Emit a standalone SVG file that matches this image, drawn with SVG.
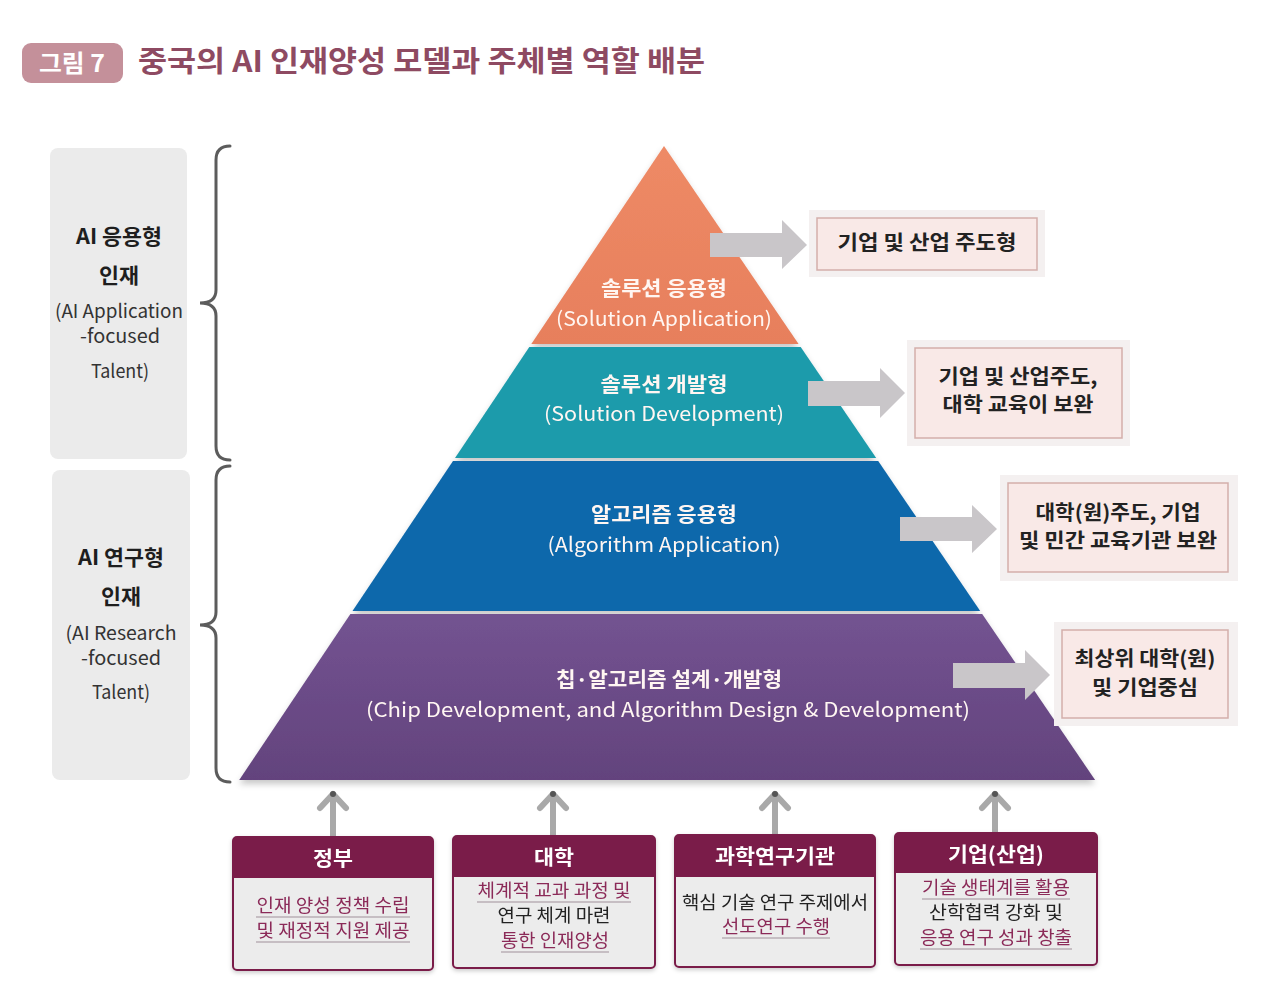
<svg xmlns="http://www.w3.org/2000/svg" width="1287" height="1001" viewBox="0 0 1287 1001">
<defs>
<style>
text{font-family:"Noto Sans CJK KR","Noto Sans",sans-serif;}
.ttl{font-size:29px;font-weight:700;fill:#8e4a62;}
.lb{font-size:21px;font-weight:700;fill:#1e1e1e;text-anchor:middle;}
.ln{font-size:19px;font-weight:400;fill:#333;text-anchor:middle;}
.pk{font-size:20px;font-weight:700;fill:#fff6f2;text-anchor:middle;}
.pe{font-size:20px;font-weight:400;fill:#fff6f2;text-anchor:middle;}
.rb{font-size:20px;font-weight:700;fill:#222;text-anchor:middle;}
.hd{font-size:20px;font-weight:700;fill:#fff;text-anchor:middle;}
.bd{font-size:18px;font-weight:400;fill:#222;text-anchor:middle;}
.bm{font-size:18px;font-weight:400;fill:#8b2a58;text-anchor:middle;}
.ul{stroke:#a0909a;stroke-width:1.2;}
.lbox{fill:#ebebeb;}
.brace{fill:none;stroke:#5c5c5c;stroke-width:3;stroke-linecap:round;}
.garrow{fill:#c9c6c9;}
.rframe{fill:#f4f0f0;}
.rbox{fill:#f9e9e7;stroke:#d3aeab;stroke-width:1.5;}
.bbox{fill:#ececec;stroke:#7a1d48;stroke-width:2;}
.bhead{fill:#7a1d48;}
.up{fill:none;stroke:#a9a9a9;stroke-width:6;stroke-linecap:round;stroke-linejoin:round;}
</style>
<linearGradient id="gPur" x1="0" y1="0" x2="0" y2="1"><stop offset="0" stop-color="#735391"/><stop offset="1" stop-color="#63437d"/></linearGradient>
<linearGradient id="gOr" x1="0" y1="0" x2="0" y2="1"><stop offset="0" stop-color="#ee8a66"/><stop offset="1" stop-color="#e77f5c"/></linearGradient>
<filter id="sh" x="-5%" y="-5%" width="110%" height="115%"><feDropShadow dx="0" dy="4" stdDeviation="3" flood-color="#000" flood-opacity="0.22"/></filter>
<filter id="bs" x="-10%" y="-10%" width="120%" height="130%"><feDropShadow dx="0" dy="2" stdDeviation="2" flood-color="#000" flood-opacity="0.2"/></filter>
</defs>
<rect width="1287" height="1001" fill="#fff"/>

<g id="title">
<rect x="22" y="43" width="101" height="40" rx="9" fill="#c4909a"/>
<text x="72" y="72" font-size="24" font-weight="700" fill="#fff" text-anchor="middle" textLength="66" lengthAdjust="spacingAndGlyphs">그림 7</text>
<text class="ttl" x="138" y="72" textLength="567" lengthAdjust="spacingAndGlyphs">중국의 AI 인재양성 모델과 주체별 역할 배분</text>
</g>

<g id="left-app">
<rect class="lbox" x="50" y="148" width="137" height="311" rx="8"/>
<text class="lb" x="119" y="244" textLength="86" lengthAdjust="spacingAndGlyphs">AI 응용형</text>
<text class="lb" x="119" y="283" textLength="40" lengthAdjust="spacingAndGlyphs">인재</text>
<text class="ln" x="119" y="318" textLength="128" lengthAdjust="spacingAndGlyphs">(AI Application</text>
<text class="ln" x="120" y="343" textLength="80" lengthAdjust="spacingAndGlyphs">-focused</text>
<text class="ln" x="120" y="378" textLength="58" lengthAdjust="spacingAndGlyphs">Talent)</text>
<path class="brace" d="M230,146 Q216,146 216,160 L216,290 Q216,303 200,303 Q216,303 216,316 L216,446 Q216,460 230,460"/>
</g>

<g id="left-res">
<rect class="lbox" x="52" y="470" width="138" height="310" rx="8"/>
<text class="lb" x="121" y="565" textLength="86" lengthAdjust="spacingAndGlyphs">AI 연구형</text>
<text class="lb" x="121" y="604" textLength="40" lengthAdjust="spacingAndGlyphs">인재</text>
<text class="ln" x="121" y="640" textLength="111" lengthAdjust="spacingAndGlyphs">(AI Research</text>
<text class="ln" x="121" y="665" textLength="80" lengthAdjust="spacingAndGlyphs">-focused</text>
<text class="ln" x="121" y="699" textLength="58" lengthAdjust="spacingAndGlyphs">Talent)</text>
<path class="brace" d="M230,466 Q216,466 216,480 L216,612 Q216,625 200,625 Q216,625 216,638 L216,768 Q216,782 230,782"/>
</g>

<g id="pyramid" filter="url(#sh)">
<g id="layer-solution-app">
<polygon points="664,146 798.6,344 531.3,344" fill="url(#gOr)"/>
<text class="pk" x="664" y="296" textLength="126" lengthAdjust="spacingAndGlyphs">솔루션 응용형</text>
<text class="pe" x="664" y="326" textLength="216" lengthAdjust="spacingAndGlyphs">(Solution Application)</text>
</g>
<g id="layer-solution-dev">
<polygon points="529.3,347 800.7,347 876.2,458 455,458" fill="#1c9bab"/>
<text class="pk" x="664" y="392" textLength="127" lengthAdjust="spacingAndGlyphs">솔루션 개발형</text>
<text class="pe" x="664" y="421" textLength="240" lengthAdjust="spacingAndGlyphs">(Solution Development)</text>
</g>
<g id="layer-algo-app">
<polygon points="453,461 878.2,461 980.2,611 352.5,611" fill="#0b67ab"/>
<text class="pk" x="664" y="522" textLength="146" lengthAdjust="spacingAndGlyphs">알고리즘 응용형</text>
<text class="pe" x="664" y="552" textLength="233" lengthAdjust="spacingAndGlyphs">(Algorithm Application)</text>
</g>
<g id="layer-chip">
<polygon points="350.4,614 982.2,614 1095.1,780 239.2,780" fill="url(#gPur)"/>
<text class="pk" x="669" y="687" textLength="226" lengthAdjust="spacingAndGlyphs">칩·알고리즘 설계·개발형</text>
<text class="pe" x="668" y="717" textLength="604" lengthAdjust="spacingAndGlyphs">(Chip Development, and Algorithm Design &amp; Development)</text>
</g>
</g>

<g id="connectors">
<polygon class="garrow" points="710,233 782,233 782,220 807,245 782,269 782,257 710,257"/>
<polygon class="garrow" points="808,381 880,381 880,368 905,393 880,418 880,406 808,406"/>
<polygon class="garrow" points="900,517 972,517 972,505 997,529 972,553 972,541 900,541"/>
<polygon class="garrow" points="953,663 1025,663 1025,650 1050,675 1025,700 1025,688 953,688"/>
<g>
<line class="up" x1="333" y1="836" x2="333" y2="795"/><polyline class="up" points="320,808 333,794 346,808"/><circle cx="333" cy="794" r="3" fill="#555"/>
<line class="up" x1="553" y1="835" x2="553" y2="795"/><polyline class="up" points="540,808 553,794 566,808"/><circle cx="553" cy="794" r="3" fill="#555"/>
<line class="up" x1="775" y1="834" x2="775" y2="795"/><polyline class="up" points="762,808 775,794 788,808"/><circle cx="775" cy="794" r="3" fill="#555"/>
<line class="up" x1="995" y1="832" x2="995" y2="795"/><polyline class="up" points="982,808 995,794 1008,808"/><circle cx="995" cy="794" r="3" fill="#555"/>
</g>
</g>

<g id="role-1">
<rect class="rframe" x="809" y="210" width="236" height="67"/>
<rect class="rbox" x="817" y="218" width="220" height="52"/>
<text class="rb" x="927" y="250" textLength="179" lengthAdjust="spacingAndGlyphs">기업 및 산업 주도형</text>
</g>
<g id="role-2">
<rect class="rframe" x="907" y="340" width="223" height="106"/>
<rect class="rbox" x="915" y="348" width="207" height="90"/>
<text class="rb" x="1018" y="384" textLength="159" lengthAdjust="spacingAndGlyphs">기업 및 산업주도,</text>
<text class="rb" x="1018" y="412" textLength="151" lengthAdjust="spacingAndGlyphs">대학 교육이 보완</text>
</g>
<g id="role-3">
<rect class="rframe" x="1000" y="475" width="238" height="106"/>
<rect class="rbox" x="1008" y="483" width="220" height="89"/>
<text class="rb" x="1118" y="520" textLength="165" lengthAdjust="spacingAndGlyphs">대학(원)주도, 기업</text>
<text class="rb" x="1118" y="548" textLength="198" lengthAdjust="spacingAndGlyphs">및 민간 교육기관 보완</text>
</g>
<g id="role-4">
<rect class="rframe" x="1054" y="622" width="184" height="104"/>
<rect class="rbox" x="1062" y="630" width="166" height="88"/>
<text class="rb" x="1145" y="666" textLength="141" lengthAdjust="spacingAndGlyphs">최상위 대학(원)</text>
<text class="rb" x="1145" y="695" textLength="106" lengthAdjust="spacingAndGlyphs">및 기업중심</text>
</g>

<g id="actor-gov" filter="url(#bs)">
<rect class="bbox" x="233" y="837" width="200" height="133" rx="4"/>
<path class="bhead" d="M233,878 L233,841 Q233,837 237,837 L429,837 Q433,837 433,841 L433,878 Z"/>
<text class="hd" x="333" y="866" textLength="40" lengthAdjust="spacingAndGlyphs">정부</text>
<text class="bm" x="333" y="912" textLength="153" lengthAdjust="spacingAndGlyphs">인재 양성 정책 수립</text>
<line class="ul" x1="256" y1="917" x2="410" y2="917"/>
<text class="bm" x="333" y="937" textLength="153" lengthAdjust="spacingAndGlyphs">및 재정적 지원 제공</text>
<line class="ul" x1="256" y1="942" x2="410" y2="942"/>
</g>
<g id="actor-univ" filter="url(#bs)">
<rect class="bbox" x="453" y="836" width="202" height="132" rx="4"/>
<path class="bhead" d="M453,877 L453,840 Q453,836 457,836 L651,836 Q655,836 655,840 L655,877 Z"/>
<text class="hd" x="554" y="865" textLength="40" lengthAdjust="spacingAndGlyphs">대학</text>
<text class="bm" x="554" y="897" textLength="153" lengthAdjust="spacingAndGlyphs">체계적 교과 과정 및</text>
<line class="ul" x1="477" y1="902" x2="631" y2="902"/>
<text class="bd" x="554" y="922" textLength="113" lengthAdjust="spacingAndGlyphs">연구 체계 마련</text>
<text class="bm" x="555" y="947" textLength="108" lengthAdjust="spacingAndGlyphs">통한 인재양성</text>
<line class="ul" x1="501" y1="952" x2="609" y2="952"/>
</g>
<g id="actor-inst" filter="url(#bs)">
<rect class="bbox" x="675" y="835" width="200" height="132" rx="4"/>
<path class="bhead" d="M675,877 L675,839 Q675,835 679,835 L871,835 Q875,835 875,839 L875,877 Z"/>
<text class="hd" x="775" y="864" textLength="120" lengthAdjust="spacingAndGlyphs">과학연구기관</text>
<text class="bd" x="775" y="909" textLength="186" lengthAdjust="spacingAndGlyphs">핵심 기술 연구 주제에서</text>
<text class="bm" x="776" y="933" textLength="108" lengthAdjust="spacingAndGlyphs">선도연구 수행</text>
<line class="ul" x1="722" y1="938" x2="830" y2="938"/>
</g>
<g id="actor-ind" filter="url(#bs)">
<rect class="bbox" x="895" y="833" width="202" height="132" rx="4"/>
<path class="bhead" d="M895,873 L895,837 Q895,833 899,833 L1093,833 Q1097,833 1097,837 L1097,873 Z"/>
<text class="hd" x="996" y="862" textLength="96" lengthAdjust="spacingAndGlyphs">기업(산업)</text>
<text class="bm" x="996" y="894" textLength="148" lengthAdjust="spacingAndGlyphs">기술 생태계를 활용</text>
<line class="ul" x1="922" y1="899" x2="1070" y2="899"/>
<text class="bd" x="996" y="919" textLength="134" lengthAdjust="spacingAndGlyphs">산학협력 강화 및</text>
<text class="bm" x="996" y="944" textLength="152" lengthAdjust="spacingAndGlyphs">응용 연구 성과 창출</text>
<line class="ul" x1="920" y1="949" x2="1072" y2="949"/>
</g>
</svg>
